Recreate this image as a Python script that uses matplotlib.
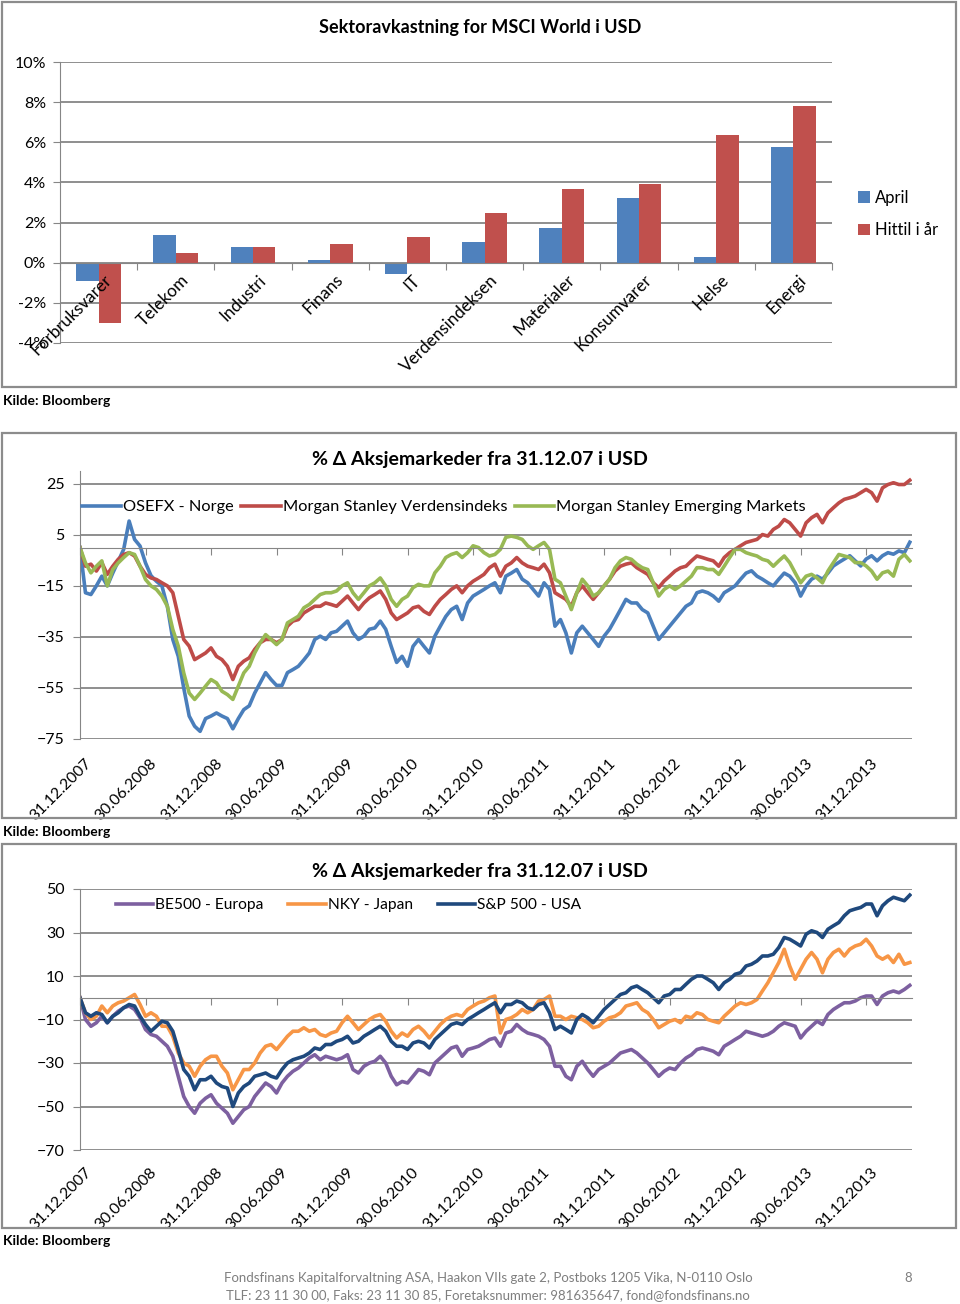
import numpy as np
import matplotlib
matplotlib.use('Agg')
import matplotlib.pyplot as plt
from matplotlib.patches import Rectangle

plt.rcParams['font.family'] = ['Lato', 'DejaVu Sans']

# ---- sector returns, MSCI World (percent)
sectors = ['Forbruksvarer', 'Telekom', 'Industri', 'Finans', 'IT', 'Verdensindeksen',
           'Materialer', 'Konsumvarer', 'Helse', 'Energi']
april = [-0.9, 1.4, 0.8, 0.12, -0.55, 1.05, 1.75, 3.22, 0.3, 5.75]
hittil = [-3.0, 0.5, 0.78, 0.95, 1.3, 2.48, 3.65, 3.9, 6.35, 7.8]

# ---- market indices, % change since 31.12.07 (read every half month)
date_labels = ['31.12.2007', '30.06.2008', '31.12.2008', '30.06.2009', '31.12.2009',
               '30.06.2010', '31.12.2010', '30.06.2011', '31.12.2011', '30.06.2012',
               '31.12.2012', '30.06.2013', '31.12.2013']
months = np.arange(0, 76.5, 0.5)

osefx = [0, -17.7, -18.4, -15, -11.2, -15, -10, -5.3, -0.7, 10.4,
         3.2, 0.6, -6, -11, -13.2, -15, -23, -36, -42.6, -55,
         -66, -70, -72, -67, -66, -64.8, -66, -67, -71, -67,
         -63.5, -62, -57, -53, -49, -51.7, -54, -54, -49, -47.8,
         -46.5, -44, -41.3, -36, -34.7, -36, -33.4, -32.8, -30.8, -28.8,
         -33.4, -36, -34.7, -32, -31.5, -28.8, -32, -38.7, -45, -42.6,
         -46.5, -38.7, -36, -38.7, -41.3, -34.7, -30.8, -27, -24.3, -23,
         -28.2, -21.7, -19, -17.7, -16.4, -15, -13.8, -17.7, -11.2, -10,
         -8.6, -12.4, -13.8, -16.4, -19, -13.8, -16.4, -30.8, -28.2, -33.4,
         -41.3, -33.4, -30.8, -33.4, -36, -38.7, -34.7, -32, -28.2, -24.3,
         -20.3, -21.7, -21.7, -24.3, -25.6, -30.8, -36, -33.4, -30.8, -28.2,
         -25.6, -23, -21.7, -17.7, -17, -17.7, -19, -21, -17.7, -16.4,
         -15, -12.4, -10, -9.1, -11.2, -12.4, -13.8, -15, -12.4, -10,
         -11.2, -13.8, -19, -15, -12.4, -11.2, -12.4, -10, -7.2, -5.8,
         -4.5, -3.2, -5.2, -7.2, -4.5, -3.2, -5.2, -3.2, -2, -2.6,
         -1.3, -2, 2.1]
ms_world = [0, -7.3, -6.5, -9.2, -5.9, -10.5, -7.3, -4.6, -2.7, -2,
            -3.3, -7.3, -10.5, -11.9, -12.5, -13.8, -15, -17.7, -26.9, -36,
            -38.6, -43.9, -42.6, -41.3, -39.3, -42.6, -43.9, -46.5, -51.7, -46.5,
            -44.5, -43.2, -39.9, -37.3, -36, -36, -37.3, -36, -30.8, -28.8,
            -28.2, -25.6, -24.3, -23, -23, -21.7, -22.3, -23, -21, -19,
            -21.7, -24.3, -21.7, -19.7, -18.4, -17, -20.3, -25.6, -28.2, -26.9,
            -25.6, -23.6, -23, -25, -26.2, -23, -20.3, -18.4, -16.4, -15,
            -17.7, -15, -13.2, -11.9, -10.5, -7.9, -6.5, -11.2, -7.3, -6,
            -3.9, -6, -7.3, -7.9, -8.6, -6.5, -9.9, -17.7, -19, -20.3,
            -23, -17.7, -15, -17.7, -20.3, -17.7, -15, -12.4, -9.2, -7.3,
            -6.5, -6, -7.9, -9.2, -10.5, -13.8, -15.7, -13.1, -11.2, -9.2,
            -7.9, -7.3, -5.2, -3.3, -3.9, -4.6, -5.2, -7.3, -3.9, -2,
            -0.7, 0.7, 2, 2.6, 3.2, 5.1, 4.5, 7.1, 8.4, 11,
            9.7, 7.1, 4.5, 9.7, 11.7, 13, 9.7, 13.6, 15.6, 17.5,
            18.9, 19.5, 20.2, 21.5, 22.8, 21.5, 18.2, 23.4, 24.7, 25.4,
            24.7, 24.7, 26.4]
ms_em = [0, -6, -9.9, -7.3, -5.2, -15, -8.6, -6, -3.9, -2,
         -2.7, -7.3, -12.5, -15, -16.4, -19, -23, -32.1, -38.6, -49.1,
         -57, -59.5, -57, -54.3, -51.7, -53, -56.3, -57.6, -59.5, -54.3,
         -49.1, -46.5, -41.3, -37.3, -34.1, -36, -38, -36, -29.5, -28.2,
         -26.9, -23.6, -22.3, -20.3, -18.4, -17.7, -17.7, -17, -15, -13.8,
         -17.7, -20.3, -17.7, -15, -13.8, -11.9, -15, -20.3, -23, -20.3,
         -19, -15.7, -14.4, -15, -15, -9.9, -7.3, -3.9, -2.7, -2,
         -3.9, -2, 0.7, 0, -2, -3.3, -2.7, -0.7, 4, 4.5,
         4, 3.2, 0.7, -0.7, 0.7, 2, -0.7, -12.4, -13.8, -19,
         -24.3, -17.7, -12.4, -15, -19, -17.7, -15, -12.4, -7.9, -5.2,
         -3.9, -4.6, -6.5, -7.9, -8.6, -13.8, -19, -16.4, -15, -16.4,
         -15, -13.1, -11.2, -7.9, -7.9, -8.6, -8.6, -10.5, -7.3, -3.9,
         -0.7, -0.7, -2, -2.7, -3.3, -4.6, -5.2, -7.3, -5.2, -3.3,
         -5.9, -9.9, -13.8, -11.2, -10.5, -11.9, -13.8, -9.2, -5.9, -2.7,
         -3.3, -3.9, -5.9, -5.9, -7.2, -9.2, -12.4, -9.9, -9.2, -11.2,
         -4.6, -2.7, -5.2]

be500 = [0, -10, -13.1, -11.5, -8.5, -11.5, -8.5, -6.2, -4.6, -3.8,
         -5.4, -9.2, -14.6, -16.9, -17.7, -20, -22.3, -26.9, -36.1, -45.4,
         -50, -53.1, -48.5, -46.2, -44.6, -48.5, -50.8, -53.1, -57.7, -54.6,
         -51.5, -50, -45.4, -42.3, -39.2, -40.8, -43.8, -39.2, -36.1, -33.8,
         -32.3, -30, -27.7, -26.2, -28.5, -26.9, -27.7, -28.5, -27.7, -26.2,
         -33, -34.6, -31.5, -30, -29.2, -26.9, -30, -36.1, -40, -38.5,
         -39.2, -36.1, -33, -33.8, -35.4, -30, -27.7, -25.4, -23.1, -22.3,
         -26.9, -23.8, -23.1, -22.3, -20.8, -19.2, -18.5, -22.3, -16.2, -15.4,
         -12.3, -14.6, -16.2, -16.9, -17.7, -19.2, -22.3, -31.5, -31.5, -36.1,
         -37.7, -31.5, -29.2, -33, -36.1, -33, -31.5, -30, -27.7, -25.4,
         -24.6, -23.8, -25.4, -27.7, -30, -33, -36.1, -33.8, -32.3, -33,
         -30, -27.7, -26.2, -23.8, -23.1, -23.8, -24.6, -26.2, -22.3, -20.8,
         -19.2, -17.7, -15.4, -16.2, -16.9, -17.7, -16.9, -15.4, -13.1, -11.5,
         -12.3, -13.1, -18.5, -15.4, -13.1, -10.8, -12.3, -7.7, -5.4, -3.8,
         -2.3, -2.3, -1.5, 0, 0.8, 0.8, -3.1, 0.8, 2.3, 3.1,
         2.3, 3.8, 5.7]
nky = [0, -6.9, -10, -8.5, -3.8, -6.9, -3.8, -2.3, -1.5, 0,
       1.5, -3.1, -8.5, -6.9, -8.5, -13.1, -13.1, -17.7, -25.4, -30,
       -31.5, -36.1, -31.5, -28.5, -26.9, -26.9, -31.5, -34.6, -42.3, -37.7,
       -33, -33, -30, -25.4, -22.3, -21.5, -23.8, -20.8, -17.7, -15.4,
       -15.4, -13.8, -15.4, -14.6, -16.9, -17.7, -16.2, -15.4, -11.5, -8.5,
       -11.5, -14.6, -12.3, -10, -8.5, -7.7, -10.8, -15.4, -18.5, -16.2,
       -17.7, -14.6, -13.1, -15.4, -18.5, -15.4, -12.3, -10, -8.5, -7.7,
       -8.5, -5.4, -3.8, -2.3, -1.5, 0, 0.8, -16.2, -10, -9.2,
       -7.7, -5.4, -6.9, -5.4, -1.5, -0.8, 0.8, -8.5, -8.5, -10,
       -8.5, -9.2, -10, -11.5, -13.8, -13.1, -10.8, -9.2, -8.5, -6.9,
       -3.8, -3.1, -2.3, -5.4, -6.9, -10, -13.8, -12.3, -10.8, -10,
       -11.5, -8.5, -9.2, -6.9, -7.7, -10, -10.8, -11.5, -8.5, -6.2,
       -3.8, -2.3, -3.1, -2.3, -0.8, 3.1, 6.9, 11.5, 16.2, 22.3,
       14.6, 8.5, 13.1, 17.7, 20.8, 17.7, 11.5, 17.7, 20.8, 22.3,
       19.2, 22.3, 23.8, 24.6, 26.9, 23.8, 19.2, 17.7, 19.2, 16.2,
       20, 15.4, 16.2]
sp500 = [0, -6.9, -8.5, -6.9, -7.7, -11.5, -8.5, -6.9, -4.6, -3.1,
         -3.8, -8.5, -12.3, -15.4, -13.1, -10.8, -11.5, -15.4, -23.8, -33,
         -36.1, -42.3, -37.7, -37.7, -36.1, -39.2, -40.8, -41.5, -50, -43.8,
         -40.8, -39.2, -36.1, -35.4, -34.6, -36.1, -36.9, -33, -30, -28.5,
         -27.7, -26.9, -25.4, -23.1, -23.8, -21.5, -21.5, -20, -19.2, -17.7,
         -20.8, -20, -17.7, -16.2, -14.6, -13.1, -15.4, -20, -22.3, -22.3,
         -23.8, -20.8, -20, -20.8, -23.1, -19.2, -16.9, -14.6, -12.3, -11.5,
         -12.3, -10, -8.5, -6.9, -5.4, -3.8, -2.3, -6.9, -3.1, -3.1,
         -1.5, -2.3, -4.6, -5.4, -3.1, -2.3, -6.9, -14.6, -13.1, -14.6,
         -16.2, -10, -7.7, -9.2, -11.5, -8.5, -5.4, -3.1, -0.8, 1.5,
         2.3, 4.6, 5.4, 3.8, 2.3, 0, -2.3, 0.8, 1.5, 3.8,
         3.8, 6.2, 8.5, 10, 10, 8.5, 6.9, 3.8, 6.9, 8.5,
         10.8, 11.5, 14.6, 15.4, 16.9, 19.2, 19.2, 20, 23.1, 27.7,
         26.9, 25.4, 23.8, 29.2, 30.8, 30, 27.7, 31.5, 33.1, 34.6,
         37.7, 40, 40.8, 41.5, 43.1, 43.1, 37.7, 42.3, 44.6, 46.2,
         45.4, 44.6, 47.2]

W, H = 960, 1304
GRID = '#868686'
fig = plt.figure(figsize=(W / 100, H / 100), dpi=100)


def px_rect(x0, y0, x1, y1):
    return [x0 / W, 1 - y1 / H, (x1 - x0) / W, (y1 - y0) / H]


def frame(x0, y0, x1, y1):
    fig.patches.append(Rectangle((x0 / W, 1 - y1 / H), (x1 - x0) / W, (y1 - y0) / H,
                                 transform=fig.transFigure, fill=False,
                                 edgecolor='#8c8c8c', lw=1.6))


frame(2, 2, 956, 387)
frame(2, 433, 956, 818)
frame(2, 844, 956, 1228)

# ================= bar chart
ax = fig.add_axes(px_rect(60, 62, 832, 343))
x = np.arange(len(sectors))
bw = 0.29
ax.bar(x - bw / 2, april, bw, color='#4F81BD', label='April', zorder=3)
ax.bar(x + bw / 2, hittil, bw, color='#C0504D', label='Hittil i år', zorder=3)
ax.set_xlim(-0.5, len(sectors) - 0.5)
ax.set_ylim(-4, 10)
ax.set_yticks(np.arange(-4, 11, 2))
ax.set_yticklabels(['%d%%' % v for v in np.arange(-4, 11, 2)])
ax.yaxis.grid(True, color=GRID, lw=1.3)
ax.set_axisbelow(True)
for s in ['top', 'right']:
    ax.spines[s].set_visible(False)
ax.spines['left'].set_color(GRID)
ax.spines['bottom'].set_color(GRID)
ax.spines['bottom'].set_position(('data', 0))
ax.spines['bottom'].set_zorder(4)
ax.set_xticks(np.arange(-0.5, len(sectors), 1))
ax.tick_params(axis='x', labelbottom=False, length=5, color=GRID, direction='out')
ax.tick_params(axis='y', length=5, color=GRID, labelsize=11.5, pad=5)
for i, name in enumerate(sectors):
    ax.text(i + 0.06, -0.45, name, rotation=45, ha='right', va='top',
            rotation_mode='anchor', fontsize=12.3)
ax.legend(loc='center left', bbox_to_anchor=(858 / W, 1 - 214 / H),
          bbox_transform=fig.transFigure, frameon=False, fontsize=12,
          handlelength=0.7, handleheight=0.7, handletextpad=0.3,
          labelspacing=1.0, borderpad=0, borderaxespad=0)
fig.text(480 / W, 1 - 28 / H, 'Sektoravkastning for MSCI World i USD',
         ha='center', va='center', fontsize=13, fontweight='bold')
fig.text(3 / W, 1 - 401 / H, 'Kilde: Bloomberg', ha='left', va='center',
         fontsize=10, fontweight='bold')


# ================= line charts
def line_panel(rect, ylim, yticks, series, title, title_y, leg_x, leg_y, leg_fs,
               colspace, src_y, lab_off):
    a = fig.add_axes(px_rect(*rect))
    for vals, col, lab in series:
        a.plot(months, vals, color=col, lw=2.6, label=lab, solid_joinstyle='round')
    a.set_xlim(0, 76.2)
    a.set_ylim(*ylim)
    a.set_yticks(yticks)
    a.yaxis.grid(True, color=GRID, lw=1.3)
    a.set_axisbelow(True)
    for s in ['top', 'right']:
        a.spines[s].set_visible(False)
    a.spines['left'].set_color(GRID)
    a.spines['bottom'].set_color(GRID)
    a.spines['bottom'].set_position(('data', 0))
    a.set_xticks(np.arange(0, 73, 6))
    a.tick_params(axis='x', labelbottom=False, length=5, color=GRID, direction='out')
    a.tick_params(axis='y', length=5, color=GRID, labelsize=11.5, pad=6)
    h_px = rect[3] - rect[1]
    for k, lab in enumerate(date_labels):
        a.text(k * 6 + 0.4, -lab_off / h_px, lab, transform=a.get_xaxis_transform(),
               rotation=45, ha='right', va='top', rotation_mode='anchor', fontsize=11.3)
    a.legend(loc='center left', bbox_to_anchor=(leg_x / W, 1 - leg_y / H),
             bbox_transform=fig.transFigure, ncol=3, frameon=False, fontsize=leg_fs,
             handlelength=2.4, handletextpad=0.12, columnspacing=colspace,
             borderpad=0, borderaxespad=0)
    fig.text(480 / W, 1 - title_y / H, title, ha='center', va='center',
             fontsize=14, fontweight='bold')
    fig.text(3 / W, 1 - src_y / H, 'Kilde: Bloomberg', ha='left', va='center',
             fontsize=10, fontweight='bold')
    return a


line_panel((80, 471, 912, 739), (-75, 30), np.arange(-75, 26, 20),
           [(osefx, '#4A7EBB', 'OSEFX - Norge'),
            (ms_world, '#BE4B48', 'Morgan Stanley Verdensindeks'),
            (ms_em, '#98B954', 'Morgan Stanley Emerging Markets')],
           '% Δ Aksjemarkeder fra 31.12.07 i USD', 460, 82, 507, 11.8, 0.45, 832, 17)

line_panel((80, 889, 912, 1150), (-70, 50), np.arange(-70, 51, 20),
           [(be500, '#7D60A0', 'BE500 - Europa'),
            (nky, '#F79646', 'NKY - Japan'),
            (sp500, '#1F497D', 'S&P 500 - USA')],
           '% Δ Aksjemarkeder fra 31.12.07 i USD', 871, 116, 905, 11.2, 1.6, 1241, 15)

# ================= footer
fig.text(488 / W, 1 - 1278 / H,
         'Fondsfinans Kapitalforvaltning ASA, Haakon VIIs gate 2, Postboks 1205 Vika, N-0110 Oslo',
         ha='center', va='center', fontsize=9.5, color='#7f7f7f')
fig.text(488 / W, 1 - 1295 / H,
         'TLF: 23 11 30 00, Faks: 23 11 30 85, Foretaksnummer: 981635647, fond@fondsfinans.no',
         ha='center', va='center', fontsize=9.5, color='#7f7f7f')
fig.text(908 / W, 1 - 1278 / H, '8', ha='center', va='center', fontsize=9.5, color='#7f7f7f')

fig.savefig('out.png', dpi=100)
